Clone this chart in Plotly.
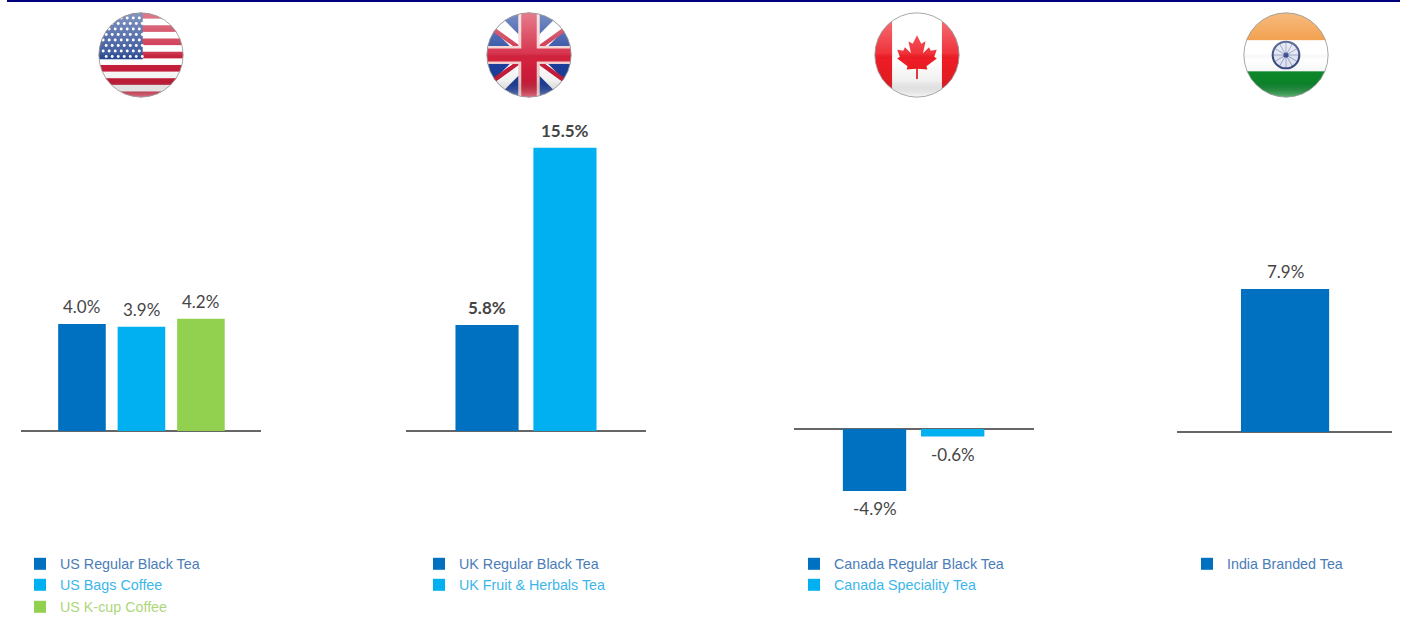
import base64
import plotly.graph_objects as go

WIDTH, HEIGHT = 1408, 624

# Growth figures by market
us_products = ["US Regular Black Tea", "US Bags Coffee", "US K-cup Coffee"]
us_values = [4.0, 3.9, 4.2]
uk_products = ["UK Regular Black Tea", "UK Fruit & Herbals Tea"]
uk_values = [5.8, 15.5]
canada_products = ["Canada Regular Black Tea", "Canada Speciality Tea"]
canada_values = [-4.9, -0.6]
india_products = ["India Branded Tea"]
india_values = [7.9]

DARK_BLUE = "#0070c0"
LIGHT_BLUE = "#00b0f0"
GREEN = "#92d050"
BAR_COLORS = [DARK_BLUE, LIGHT_BLUE, GREEN]
LEGEND_TEXT = {DARK_BLUE: "#4a7cb8", LIGHT_BLUE: "#3cb6ea", GREEN: "#aed67a"}

PLOT_TOP, PLOT_BOTTOM = 110, 530
LABEL_OFFSET = 17.5


def clipped_flag(body):
    """Wrap flag artwork in a soft round badge with a glossy highlight."""
    svg = f"""<svg xmlns='http://www.w3.org/2000/svg' width='400' height='400' viewBox='0 0 100 100'>
<defs>
<clipPath id='c'><circle cx='50' cy='50' r='49'/></clipPath>
<filter id='s' x='-5%' y='-5%' width='110%' height='110%'><feGaussianBlur stdDeviation='0.8'/></filter>
<linearGradient id='g' x1='0' y1='0' x2='0' y2='1'>
<stop offset='0' stop-color='#fff' stop-opacity='0.42'/>
<stop offset='0.48' stop-color='#fff' stop-opacity='0.1'/>
<stop offset='0.55' stop-color='#000' stop-opacity='0'/>
<stop offset='0.8' stop-color='#000' stop-opacity='0.06'/>
<stop offset='1' stop-color='#fff' stop-opacity='0.4'/>
</linearGradient>
</defs>
<g filter='url(#s)'>
<g clip-path='url(#c)'>{body}<rect width='100' height='100' fill='url(#g)'/></g>
<circle cx='50' cy='50' r='49' fill='none' stroke='#9a9a9a' stroke-width='1'/>
</g></svg>"""
    return "data:image/svg+xml;base64," + base64.b64encode(svg.encode()).decode()


def usa_flag():
    parts = ["<rect width='100' height='100' fill='#fff'/>"]
    for i in range(0, 13, 2):
        parts.append(f"<rect y='{i * 7.7:.1f}' width='100' height='7.7' fill='#c8203c'/>")
    parts.append("<rect width='52' height='55' fill='#2a4a95'/>")
    for row in range(8):
        for col in range(7):
            cx = 6 + col * 7 + (3.5 if row % 2 else 0)
            parts.append(f"<circle cx='{cx}' cy='{7 + row * 6.4:.1f}' r='1.7' fill='#fff'/>")
    return clipped_flag("".join(parts))


def uk_flag():
    body = (
        "<rect width='100' height='100' fill='#1c3f9c'/>"
        "<path d='M0 0L100 100M100 0L0 100' stroke='#fff' stroke-width='17'/>"
        "<path d='M0 14L50 50M100 14L50 50M0 86L50 50M100 86L50 50' stroke='#c8203c' stroke-width='5'/>"
        "<path d='M50 0V100' stroke='#f4d0d0' stroke-width='25'/>"
        "<path d='M0 50H100' stroke='#f4d0d0' stroke-width='21'/>"
        "<path d='M50 0V100' stroke='#d3203c' stroke-width='18'/>"
        "<path d='M0 50H100' stroke='#d3203c' stroke-width='15'/>"
    )
    return clipped_flag(body)


def canada_flag():
    leaf = (
        "M50 27L55 37L60 34L57 48L64 41L66 45L73 44L70 52L73 54L61 63L62 67"
        "L51 66L51 78H49L49 66L38 67L39 63L27 54L30 52L27 44L34 45L36 41L43 48L40 34L45 37Z"
    )
    body = (
        "<rect width='100' height='100' fill='#fff'/>"
        "<rect width='21' height='100' fill='#ee1c25'/>"
        "<rect x='79' width='21' height='100' fill='#ee1c25'/>"
        f"<path d='{leaf}' fill='#ee1c25'/>"
    )
    return clipped_flag(body)


def india_flag():
    spokes = "".join(
        f"<line x1='50' y1='50' x2='50' y2='35' stroke='#5a6aa8' stroke-width='0.6' transform='rotate({a} 50 50)'/>"
        for a in range(0, 360, 30)
    )
    body = (
        "<rect width='100' height='33' fill='#f08a24'/>"
        "<rect y='33' width='100' height='36' fill='#fff'/>"
        "<rect y='69' width='100' height='31' fill='#0a8c2c'/>"
        f"<circle cx='50' cy='50' r='15' fill='#e2e6f2'/>{spokes}"
        "<circle cx='50' cy='50' r='15.5' fill='none' stroke='#3a4a80' stroke-width='2.4'/>"
        "<circle cx='50' cy='50' r='3' fill='#3a4a90'/>"
    )
    return clipped_flag(body)


# Each panel: plot span in pixels, baseline row, pixels per percentage point and
# the horizontal category window that sets bar spacing.
panels = [
    dict(products=us_products, values=us_values, left=21, right=261, base=431, scale=26.75,
         window=[-1.025, 3.01], bar_width=0.8, bold=False, flag=usa_flag(), flag_x=141,
         legend_x=20, legend_rows=[564, 585, 607]),
    dict(products=uk_products, values=uk_values, left=406, right=646, base=431, scale=18.27,
         window=[-1.04, 2.04], bar_width=0.81, bold=True, flag=uk_flag(), flag_x=529,
         legend_x=419, legend_rows=[564, 585]),
    dict(products=canada_products, values=canada_values, left=794, right=1034, base=429, scale=12.65,
         window=[-1.03, 2.04], bar_width=0.81, bold=False, flag=canada_flag(), flag_x=917,
         legend_x=794, legend_rows=[564, 585]),
    dict(products=india_products, values=india_values, left=1177, right=1392, base=432, scale=18.1,
         window=[-0.98, 0.97], bar_width=0.8, bold=False, flag=india_flag(), flag_x=1286,
         legend_x=1187, legend_rows=[564]),
]

fig = go.Figure()
layout_extra = {}
images = []
value_labels = []
legend_index = 0

for n, panel in enumerate(panels, start=1):
    suffix = "" if n == 1 else str(n)
    for i, (product, value) in enumerate(zip(panel["products"], panel["values"])):
        legend_index += 1
        legend_id = "legend" if legend_index == 1 else f"legend{legend_index}"
        color = BAR_COLORS[i]
        label = f"{value:.1f}%"
        fig.add_trace(go.Bar(
            x=[product],
            y=[value],
            name=product,
            width=panel["bar_width"],
            marker=dict(color=color, line=dict(width=0)),
            xaxis=f"x{suffix}",
            yaxis=f"y{suffix}",
            legend=legend_id,
            showlegend=True,
        ))
        # Value label sits a fixed distance beyond the end of its bar
        value_labels.append(dict(
            x=product,
            y=value,
            xref=f"x{suffix}",
            yref=f"y{suffix}",
            text=f"<b>{label}</b>" if panel["bold"] else label,
            showarrow=False,
            xanchor="center",
            yanchor="middle",
            yshift=LABEL_OFFSET if value >= 0 else -LABEL_OFFSET,
            font=dict(family="Lato, Open Sans, sans-serif", size=17, color="#454545"),
        ))
        layout_extra[legend_id] = dict(
            x=panel["legend_x"] / WIDTH,
            y=1 - panel["legend_rows"][i] / HEIGHT,
            xanchor="left",
            yanchor="middle",
            bgcolor="rgba(0,0,0,0)",
            font=dict(family="Liberation Sans, Arial, sans-serif", size=14.3, color=LEGEND_TEXT[color]),
        )

    layout_extra[f"xaxis{suffix}"] = dict(
        domain=[panel["left"] / WIDTH, panel["right"] / WIDTH],
        range=panel["window"],
        type="category",
        anchor=f"y{suffix}",
        showticklabels=False,
        showgrid=False,
        showline=False,
        zeroline=False,
        ticks="",
        fixedrange=True,
    )
    layout_extra[f"yaxis{suffix}"] = dict(
        domain=[1 - PLOT_BOTTOM / HEIGHT, 1 - PLOT_TOP / HEIGHT],
        range=[(panel["base"] - PLOT_BOTTOM) / panel["scale"], (panel["base"] - PLOT_TOP) / panel["scale"]],
        anchor=f"x{suffix}",
        showticklabels=False,
        showgrid=False,
        showline=False,
        ticks="",
        zeroline=True,
        zerolinecolor="#666666",
        zerolinewidth=1.5,
        fixedrange=True,
    )
    images.append(dict(
        source=panel["flag"],
        xref="paper",
        yref="paper",
        x=(panel["flag_x"] - 43) / WIDTH,
        y=1 - 12 / HEIGHT,
        sizex=86 / WIDTH,
        sizey=86 / HEIGHT,
        xanchor="left",
        yanchor="top",
        sizing="stretch",
        layer="above",
    ))

fig.update_layout(
    width=WIDTH,
    height=HEIGHT,
    margin=dict(l=0, r=0, t=0, b=0),
    paper_bgcolor="white",
    plot_bgcolor="white",
    barmode="overlay",
    images=images,
    annotations=value_labels,
    # Navy rule across the top of the slide
    shapes=[dict(type="rect", xref="paper", yref="paper",
                 x0=7 / WIDTH, x1=1400 / WIDTH, y0=1 - 2 / HEIGHT, y1=1,
                 fillcolor="#00007f", line=dict(width=0))],
    **layout_extra,
)

fig.write_html("out.html", config=dict(displayModeBar=False))
